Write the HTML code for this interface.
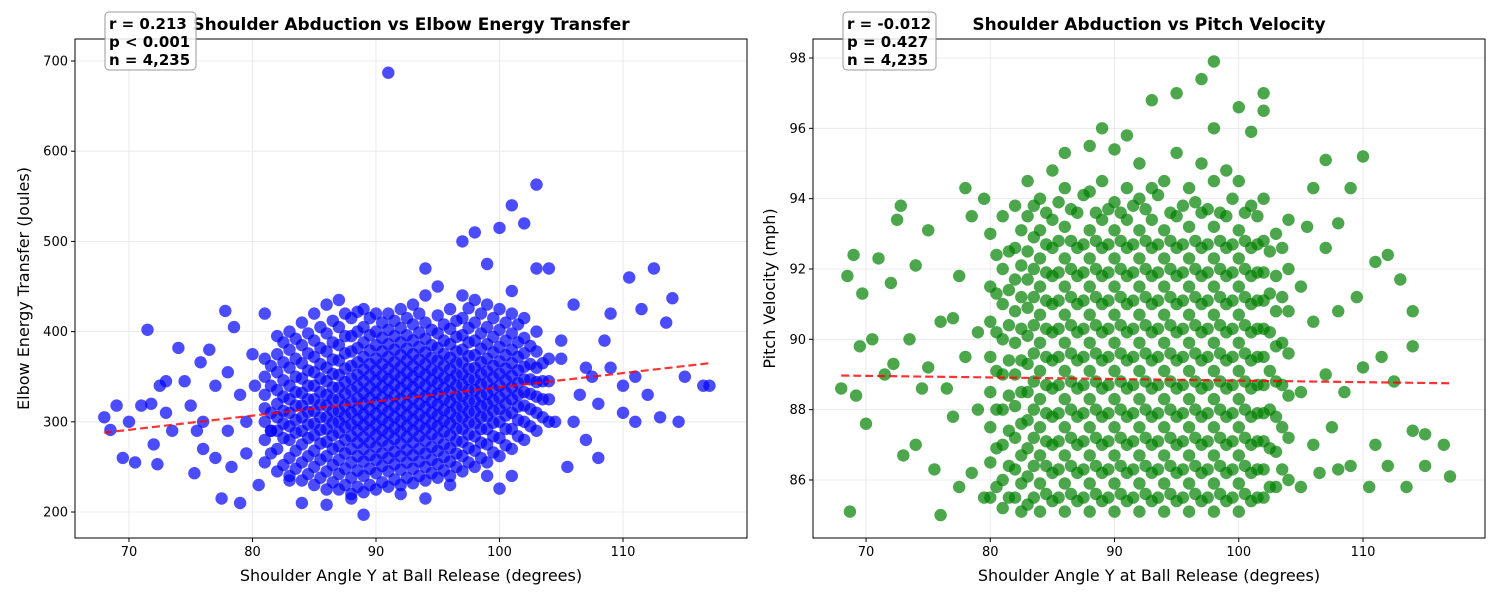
<!DOCTYPE html>
<html><head><meta charset="utf-8"><style>
body{margin:0;background:#fff;width:1500px;height:600px;overflow:hidden}
svg{font-family:"DejaVu Sans","Liberation Sans",sans-serif}
</style></head><body>
<svg id="fig" width="1500" height="600" xmlns="http://www.w3.org/2000/svg"></svg>
<script>
// ---------- Left chart data ----------
const leftXTicks=[70,80,90,100,110];
const leftYTicks=[200,300,400,500,600,700];
const leftFitX=[68,117];
const leftFitY=[288,365];
const leftCols=[
[81,[255,280,300,315,330,350,370]],
[82,[245,270,290,305,320,335,355,375,395]],
[83,[240,260,280,295,310,325,340,360,380,400]],
[84,[235,255,275,290,305,318,332,348,365,385,410]],
[85,[230,250,268,285,298,312,325,340,355,372,390,420]],
[86,[225,245,262,278,292,305,318,330,345,360,378,398,430]],
[87,[225,242,258,273,288,300,312,325,338,352,368,385,405,435]],
[88,[220,238,255,270,284,297,310,322,335,348,362,378,395,415]],
[89,[222,240,256,270,283,296,308,320,332,345,358,372,388,405,425]],
[90,[225,243,258,272,285,297,309,321,333,345,357,370,385,400,420]],
[91,[228,245,260,274,287,299,311,323,335,347,359,372,386,402,420]],
[92,[230,247,262,276,289,301,313,325,337,349,361,374,388,404,425]],
[93,[232,248,263,277,290,302,314,326,338,350,362,375,390,408,430]],
[94,[235,250,265,279,292,304,316,328,340,352,364,377,392,410,440]],
[95,[238,253,268,282,295,307,319,331,343,355,368,382,398,418]],
[96,[240,256,271,285,298,310,322,334,346,358,371,386,403,425]],
[97,[245,262,278,292,305,317,329,341,353,366,380,396,415,440]],
[98,[250,268,284,298,311,323,335,347,360,374,390,410,435]],
[99,[255,275,292,306,319,331,343,356,370,386,405,430]],
[100,[262,282,300,314,327,340,353,367,383,402,425]],
[101,[270,292,310,325,338,351,365,380,398,420,445]],
[102,[280,300,318,333,347,361,376,393,415]],
[103,[290,310,328,344,360,378,400]],
[104,[300,325,345,370]],
[81.5,[265,290,310,340,362]],
[82.5,[252,282,298,312,328,346,366,388]],
[83.5,[248,268,288,302,318,333,350,370,392]],
[84.5,[242,262,282,297,311,325,340,357,376,398]],
[85.5,[238,258,276,291,305,319,333,348,364,382,405]],
[86.5,[233,252,270,285,299,312,325,338,353,369,388,412]],
[87.5,[230,248,265,280,294,306,318,331,344,359,376,395,420]],
[88.5,[228,246,262,277,290,302,314,326,339,352,366,382,400,422]],
[89.5,[230,248,263,277,290,302,314,326,338,351,364,379,396,415]],
[90.5,[233,251,265,279,291,303,315,327,339,351,364,378,393,410]],
[91.5,[236,253,267,281,293,305,317,329,341,353,366,380,395,412]],
[92.5,[238,255,269,283,295,307,319,331,343,355,368,381,396,415]],
[93.5,[240,256,270,284,296,308,320,332,344,356,369,383,399,420]],
[94.5,[243,258,272,286,298,310,322,334,346,358,371,385,402]],
[95.5,[246,261,275,289,301,313,325,337,349,362,375,390,408]],
[96.5,[250,265,279,292,304,316,328,340,352,365,378,394,412]],
[97.5,[255,271,286,299,311,323,335,347,359,373,388,404,426]],
[98.5,[260,277,292,305,317,329,341,353,366,381,398,420]],
[99.5,[266,284,299,312,324,336,349,362,377,394,415]],
[100.5,[274,292,307,320,333,346,359,374,390,410]],
[101.5,[284,302,317,330,343,357,372,388,408]],
[102.5,[295,314,331,347,364,384]],
[103.5,[305,325,345,365]]];
const leftSparse=[68.5,291,69,318,69.5,260,70,300,70.5,255,71,318,71.5,402,71.8,320,72,275,72.3,253,72.5,340,73,345,73.5,290,74,382,74.5,345,75,318,75.3,243,75.5,290,75.8,366,76,270,76.5,380,77,340,77.5,215,77.8,423,78,290,78.3,250,78.5,405,79,330,79,210,79.5,265,80,375,80.5,230,81,420,81.5,290,68,305,73,310,76,300,77,260,78,355,79.5,300,80.2,340,
104,470,104.5,300,105,390,105.5,250,106,430,106.5,330,107,280,107.5,350,108,320,108.5,390,109,360,110,310,110.5,460,111,350,111.5,425,112,330,112.5,470,113,305,113.5,410,114,437,114.5,300,115,350,116.5,340,117,340,105,370,106,300,107,360,109,420,110,340,111,300,108,260,103,563,101,540,102,520,97,500,98,510,91,687,100,515,99,475,103,470,94,470,95,450,
89,197,92,220,86,208,88,215,84,210,94,215,96,230,99,240,100,226,83,235,101,240];
const shoulderL=[],energy=[];
leftCols.forEach(c=>c[1].forEach(y=>{shoulderL.push(c[0]);energy.push(y);}));
for(let i=0;i<leftSparse.length;i+=2){shoulderL.push(leftSparse[i]);energy.push(leftSparse[i+1]);}

// ---------- Right chart data ----------
const rightXTicks=[70,80,90,100,110];
const rightYTicks=[86,88,90,92,94,96,98];
const rightFitX=[68,117];
const rightFitY=[88.97,88.75];
const rightCols=[
[80,[85.5,86.5,87.5,88.5,89.5,90.5,91.5,93]],
[81,[85.2,86,87,88,89,90,91,92,93.5]],
[82,[85.5,86.3,87.2,88.1,89,89.9,90.8,91.7,92.6,93.8]],
[83,[85.3,86.1,86.9,87.7,88.5,89.3,90.1,90.9,91.7,92.5,93.5,94.5]],
[84,[85.1,85.9,86.7,87.5,88.3,89.1,89.9,90.7,91.5,92.3,93.1,94]],
[85,[85.4,86.2,87,87.8,88.6,89.4,90.2,91,91.8,92.6,93.4,94.8]],
[86,[85.1,85.9,86.7,87.5,88.3,89.1,89.9,90.7,91.5,92.3,93.2,94.3,95.3]],
[87,[85.4,86.2,87,87.8,88.6,89.4,90.2,91,91.8,92.6,93.6]],
[88,[85.1,85.9,86.7,87.5,88.3,89.1,89.9,90.7,91.5,92.3,93.1,94.2,95.5]],
[89,[85.4,86.2,87,87.8,88.6,89.4,90.2,91,91.8,92.6,93.4,94.5,96]],
[90,[85.1,85.9,86.7,87.5,88.3,89.1,89.9,90.7,91.5,92.3,93.1,93.9,95.4]],
[91,[85.4,86.2,87,87.8,88.6,89.4,90.2,91,91.8,92.6,93.4,94.3,95.8]],
[92,[85.1,85.9,86.7,87.5,88.3,89.1,89.9,90.7,91.5,92.3,93.1,94,95]],
[93,[85.4,86.2,87,87.8,88.6,89.4,90.2,91,91.8,92.6,93.4,94.3,96.8]],
[94,[85.1,85.9,86.7,87.5,88.3,89.1,89.9,90.7,91.5,92.3,93.1,94.5]],
[95,[85.4,86.2,87,87.8,88.6,89.4,90.2,91,91.8,92.6,93.5,95.3,97]],
[96,[85.1,85.9,86.7,87.5,88.3,89.1,89.9,90.7,91.5,92.3,93.2,94.3]],
[97,[85.4,86.2,87,87.8,88.6,89.4,90.2,91,91.8,92.6,93.6,95,97.4]],
[98,[85.1,85.9,86.7,87.5,88.3,89.1,89.9,90.7,91.5,92.3,93.2,94.5,96,97.9]],
[99,[85.4,86.2,87,87.8,88.6,89.4,90.2,91,91.8,92.6,93.5,94.8]],
[100,[85.1,85.9,86.7,87.5,88.3,89.1,89.9,90.7,91.5,92.3,93.1,94.5,96.6]],
[101,[85.4,86.2,87,87.8,88.6,89.4,90.2,91,91.8,92.6,93.8,95.9]],
[102,[85.5,86.3,87.1,87.9,88.7,89.5,90.3,91.1,91.9,92.8,94,96.5,97]],
[103,[85.8,86.8,87.8,88.8,89.8,90.8,91.8,93]],
[104,[86,87.2,88.4,89.6,90.8,92,93.4]],
[80.5,[85.8,86.9,88,89.1,90.2,91.3,92.4]],
[81.5,[85.5,86.4,87.4,88.4,89.4,90.4,91.4,92.5]],
[82.5,[85.1,85.9,86.7,87.6,88.5,89.4,90.3,91.2,92.1,93.1]],
[83.5,[85.5,86.4,87.2,88,88.8,89.6,90.4,91.2,92,92.9,93.8]],
[84.5,[85.6,86.4,87.1,87.9,88.7,89.5,90.3,91.1,91.9,92.7,93.6]],
[85.5,[85.5,86.3,87.1,87.9,88.7,89.5,90.3,91.1,91.9,92.8,93.9]],
[86.5,[85.6,86.4,87.2,88,88.8,89.6,90.4,91.2,92,92.8,93.7]],
[87.5,[85.5,86.3,87.1,87.9,88.7,89.5,90.3,91.1,91.9,92.7,94.1]],
[88.5,[85.6,86.4,87.2,88,88.8,89.6,90.4,91.2,92,92.8,93.6]],
[89.5,[85.5,86.3,87.1,87.9,88.7,89.5,90.3,91.1,91.9,92.7,93.7]],
[90.5,[85.6,86.4,87.2,88,88.8,89.6,90.4,91.2,92,92.8,93.6]],
[91.5,[85.5,86.3,87.1,87.9,88.7,89.5,90.3,91.1,91.9,92.7,93.8]],
[92.5,[85.6,86.4,87.2,88,88.8,89.6,90.4,91.2,92,92.8,93.7]],
[93.5,[85.5,86.3,87.1,87.9,88.7,89.5,90.3,91.1,91.9,92.7,94.1]],
[94.5,[85.6,86.4,87.2,88,88.8,89.6,90.4,91.2,92,92.8,93.6]],
[95.5,[85.5,86.3,87.1,87.9,88.7,89.5,90.3,91.1,91.9,92.7,93.8]],
[96.5,[85.6,86.4,87.2,88,88.8,89.6,90.4,91.2,92,92.8,93.9]],
[97.5,[85.5,86.3,87.1,87.9,88.7,89.5,90.3,91.1,91.9,92.7,93.7]],
[98.5,[85.6,86.4,87.2,88,88.8,89.6,90.4,91.2,92,92.8,93.6]],
[99.5,[85.5,86.3,87.1,87.9,88.7,89.5,90.3,91.1,91.9,92.7,94]],
[100.5,[85.6,86.4,87.2,88,88.8,89.6,90.4,91.2,92,92.8,93.6]],
[101.5,[85.5,86.3,87.1,87.9,88.7,89.5,90.3,91.1,91.9,92.7,93.5]],
[102.5,[85.8,86.9,88,89.1,90.2,91.3,92.5]],
[103.5,[86.3,87.5,88.7,89.9,91.2,92.6]]];
const rightSparse=[68,88.6,68.5,91.8,68.7,85.1,69,92.4,69.2,88.4,69.5,89.8,69.7,91.3,70,87.6,70.5,90,71,92.3,71.5,89,72,91.6,72.2,89.3,72.5,93.4,72.8,93.8,73,86.7,73.5,90,74,92.1,74,87,74.5,88.6,75,89.2,75,93.1,75.5,86.3,76,90.5,76,85,76.5,88.6,77,87.8,77,90.6,77.5,85.8,77.5,91.8,78,94.3,78,89.5,78.5,86.2,78.5,93.5,79,88,79,90.2,79.5,85.5,79.5,94,
105,85.8,105,88.5,105,91.5,105.5,93.2,106,87,106,90.5,106,94.3,106.5,86.2,107,89,107,95.1,107,92.6,107.5,87.5,108,86.3,108,90.8,108,93.3,108.5,88.5,109,86.4,109,94.3,109.5,91.2,110,95.2,110,89.2,110.5,85.8,111,92.2,111,87,111.5,89.5,112,86.4,112,92.4,112.5,88.8,113,91.7,113.5,85.8,114,89.8,114,87.4,114,90.8,115,86.4,115,87.3,116.5,87,117,86.1];
const shoulderR=[],velocity=[];
rightCols.forEach(c=>c[1].forEach(y=>{shoulderR.push(c[0]);velocity.push(y);}));
for(let i=0;i<rightSparse.length;i+=2){shoulderR.push(rightSparse[i]);velocity.push(rightSparse[i+1]);}

const NS="http://www.w3.org/2000/svg";
const svg=document.getElementById('fig');
function mk(tag,attrs,parent,txt){const e=document.createElementNS(NS,tag);for(const k in attrs)e.setAttribute(k,attrs[k]);if(txt!==undefined)e.textContent=txt;(parent||svg).appendChild(e);return e;}
const defs=mk('defs',{});

function chart(o){
  const g=mk('g',{});
  
  
  const cp=mk('clipPath',{id:o.name+'-clip'},defs);
  mk('rect',{x:o.x0,y:o.y0,width:o.x1-o.x0,height:o.y1-o.y0},cp);
  const sx=v=>o.x0+(v-o.xa)*(o.x1-o.x0)/(o.xb-o.xa);
  const sy=v=>o.y1-(v-o.ya)*(o.y1-o.y0)/(o.yb-o.ya);
  o.xTicks.forEach(t=>{const l=mk('line',{x1:sx(t),x2:sx(t),y1:o.y0,y2:o.y1,stroke:'#e6e6e6','stroke-width':0.8},g);
    });
  o.yTicks.forEach(t=>{const l=mk('line',{x1:o.x0,x2:o.x1,y1:sy(t),y2:sy(t),stroke:'#e6e6e6','stroke-width':0.8},g);
    });
  const pg=mk('g',{'clip-path':`url(#${o.name}-clip)`},g);
  
  
  for(let i=0;i<o.xs.length;i++){
    const c=mk('circle',{cx:sx(o.xs[i]).toFixed(1),cy:sy(o.ys[i]).toFixed(1),r:6.2,fill:o.color,'fill-opacity':0.7},pg);
    
    
  }
  const fl=mk('line',{x1:sx(o.fitX[0]),y1:sy(o.fitY[0]),x2:sx(o.fitX[1]),y2:sy(o.fitY[1]),stroke:'#ff0000','stroke-opacity':0.8,'stroke-width':2.2,'stroke-dasharray':'8,4'},g);
  
  
  const fr=mk('rect',{x:o.x0,y:o.y0,width:o.x1-o.x0,height:o.y1-o.y0,fill:'none',stroke:'#000','stroke-width':1},g);
  
  
  o.xTicks.forEach(t=>{mk('line',{x1:sx(t),x2:sx(t),y1:o.y1,y2:o.y1+4,stroke:'#000'},g);
    const tx=mk('text',{x:sx(t),y:o.y1+18,'text-anchor':'middle','font-size':13},g,t);
    });
  o.yTicks.forEach(t=>{mk('line',{x1:o.x0-4,x2:o.x0,y1:sy(t),y2:sy(t),stroke:'#000'},g);
    const tx=mk('text',{x:o.x0-7,y:sy(t)+4.5,'text-anchor':'end','font-size':13},g,t);
    });
  const xt=mk('text',{x:(o.x0+o.x1)/2,y:581,'text-anchor':'middle','font-size':16},g,'Shoulder Angle Y at Ball Release (degrees)');
  
  const yt=mk('text',{transform:`translate(${o.ytX},${(o.y0+o.y1)/2}) rotate(-90)`,'text-anchor':'middle','font-size':16},g,o.yTitle);
  
  const tt=mk('text',{x:(o.x0+o.x1)/2,y:30,'text-anchor':'middle','font-size':17,'font-weight':'bold'},g,o.title);
  
  const bx=mk('g',{},g);
  
  mk('rect',{x:o.x0+30,y:12,width:o.boxW,height:58,rx:4,fill:'#fff','fill-opacity':0.85,stroke:'#999','stroke-width':1},bx);
  o.stats.forEach((s,i)=>mk('text',{x:o.x0+34,y:29+i*18,'font-size':15,'font-weight':'bold'},bx,s));
}
chart({name:'energy-chart',x0:75,x1:747,y0:39,y1:538,xa:65.63,xb:120.04,ya:171.2,yb:724.4,
  xs:shoulderL,ys:energy,xTicks:leftXTicks,yTicks:leftYTicks,fitX:leftFitX,fitY:leftFitY,color:'#0000ff',
  title:'Shoulder Abduction vs Elbow Energy Transfer',yTitle:'Elbow Energy Transfer (Joules)',ytX:29,
  stats:['r = 0.213','p < 0.001','n = 4,235'],boxW:91});
chart({name:'velocity-chart',x0:813,x1:1485,y0:39,y1:538,xa:65.73,xb:119.82,ya:84.35,yb:98.54,
  xs:shoulderR,ys:velocity,xTicks:rightXTicks,yTicks:rightYTicks,fitX:rightFitX,fitY:rightFitY,color:'#008000',
  title:'Shoulder Abduction vs Pitch Velocity',yTitle:'Pitch Velocity (mph)',ytX:775,
  stats:['r = -0.012','p = 0.427','n = 4,235'],boxW:93});
</script>
</body></html>
